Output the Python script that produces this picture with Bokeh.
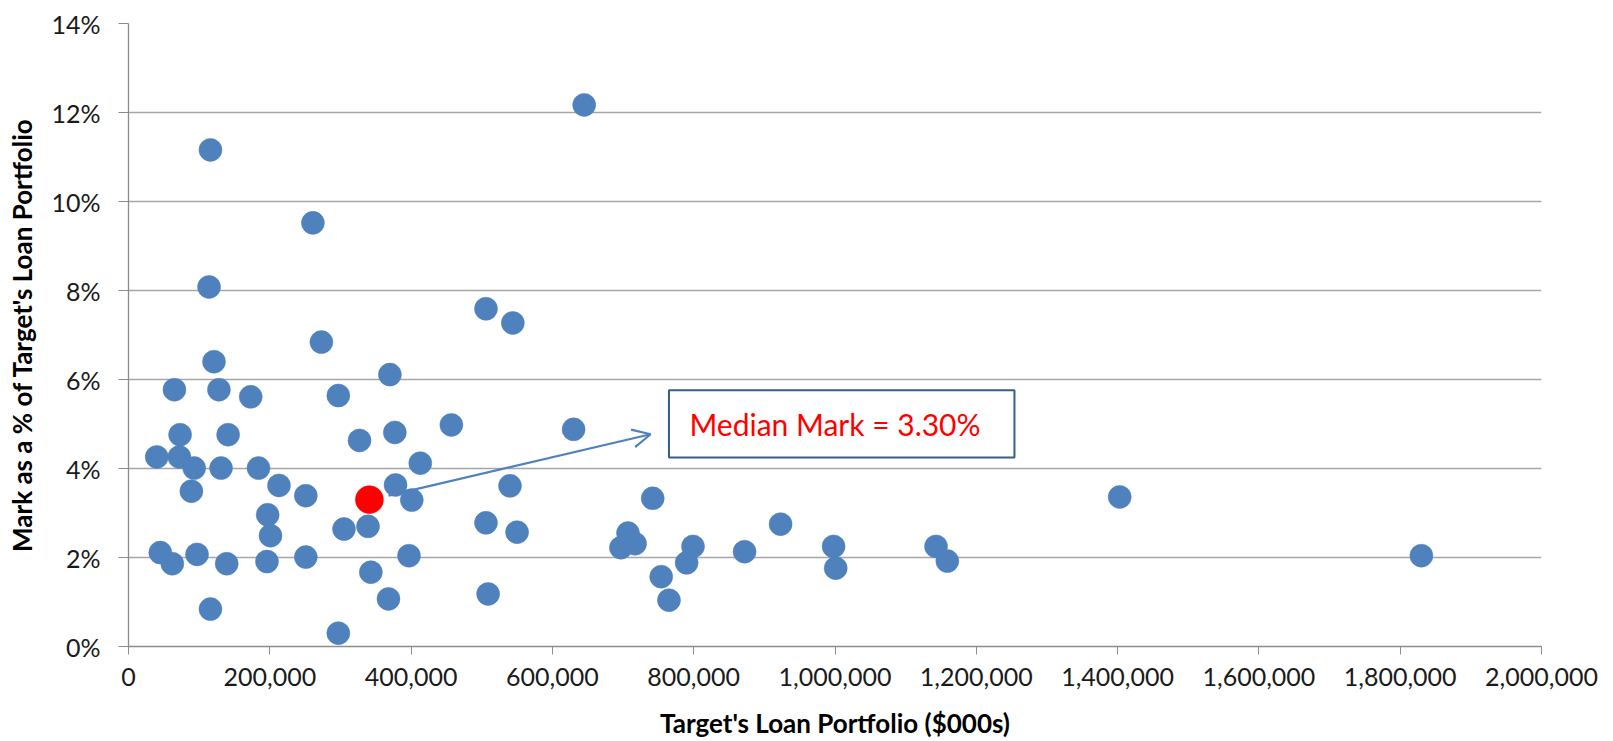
from bokeh.plotting import figure
from bokeh.models import (NumeralTickFormatter, PrintfTickFormatter,
                          FixedTicker, Arrow, OpenHead, BoxAnnotation, Label, Range1d)
from bokeh.embed import file_html
from bokeh.resources import INLINE

# Target loan portfolio ($000s) and mark as % of the portfolio
loan_portfolio = [
    645000, 116000, 261000, 114000, 506000, 544000, 273000, 121000, 370000, 65000,
    128000, 173000, 297000, 73000, 141000, 377000, 457000, 630000, 327000, 40000,
    72000, 93000, 131000, 184000, 413000, 89000, 213000, 251000, 378000, 540000,
    742000, 1403000, 401000, 197000, 201000, 305000, 339000, 506000, 550000, 707000,
    717000, 697000, 923000, 799000, 872000, 998000, 1143000, 45000, 62000, 97000,
    139000, 196000, 251000, 397000, 790000, 1001000, 1159000, 1830000, 343000, 754000,
    116000, 368000, 509000, 765000, 297000,
]
mark_pct = [
    12.17, 11.16, 9.52, 8.08, 7.59, 7.27, 6.84, 6.40, 6.11, 5.77,
    5.77, 5.61, 5.64, 4.76, 4.76, 4.81, 4.98, 4.88, 4.63, 4.26,
    4.26, 4.01, 4.01, 4.01, 4.12, 3.49, 3.62, 3.39, 3.63, 3.61,
    3.33, 3.36, 3.29, 2.96, 2.49, 2.64, 2.70, 2.78, 2.57, 2.55,
    2.31, 2.22, 2.75, 2.25, 2.13, 2.25, 2.25, 2.11, 1.86, 2.07,
    1.86, 1.91, 2.01, 2.04, 1.88, 1.76, 1.92, 2.04, 1.67, 1.57,
    0.84, 1.07, 1.18, 1.04, 0.30,
]

# Median deal
median_portfolio = [341000]
median_mark = [3.30]
median_text = "Median Mark = 3.30%"

x_ticks = [0, 200000, 400000, 600000, 800000, 1000000, 1200000, 1400000,
           1600000, 1800000, 2000000]
y_ticks = [0, 2, 4, 6, 8, 10, 12, 14]

FONT = "Lato"
BLUE = "#4F81BD"
GRID = "#A6A6A6"
AXIS = "#8C8C8C"
TEXT = "#1A1A1A"

p = figure(width=1613, height=741, output_backend="svg", toolbar_location=None,
           x_range=Range1d(0, 2000000), y_range=Range1d(0, 14),
           min_border_left=128, min_border_right=72, min_border_top=23,
           min_border_bottom=95)
p.outline_line_color = None
p.background_fill_color = "white"
p.border_fill_color = "white"

p.scatter(x=loan_portfolio, y=mark_pct, size=23, fill_color=BLUE,
          line_color=BLUE, line_width=0.5)
p.scatter(x=median_portfolio, y=median_mark, size=28, fill_color="#FF0000",
          line_color="#FF0000", line_width=0.5)

# gridlines
p.xgrid.visible = False
p.ygrid.grid_line_color = GRID
p.ygrid.grid_line_width = 1.3
p.ygrid.ticker = FixedTicker(ticks=y_ticks)

# x axis
xa = p.xaxis[0]
xa.ticker = FixedTicker(ticks=x_ticks)
xa.formatter = NumeralTickFormatter(format="0,0")
xa.axis_line_color = AXIS
xa.axis_line_width = 1.3
xa.major_tick_line_color = AXIS
xa.major_tick_out = 8
xa.major_tick_in = 0
xa.minor_tick_line_color = None
xa.major_label_text_font = FONT
xa.major_label_text_font_size = "25px"
xa.major_label_text_color = TEXT
xa.major_label_standoff = 13
xa.axis_label = "Target's Loan Portfolio ($000s)"
xa.axis_label_text_font = FONT
xa.axis_label_text_font_style = "bold"
xa.axis_label_text_font_size = "26px"
xa.axis_label_text_color = "#000000"
xa.axis_label_standoff = 18

# y axis
ya = p.yaxis[0]
ya.ticker = FixedTicker(ticks=y_ticks)
ya.formatter = PrintfTickFormatter(format="%d%%")
ya.axis_line_color = AXIS
ya.axis_line_width = 1.3
ya.major_tick_line_color = AXIS
ya.major_tick_out = 10
ya.major_tick_in = 0
ya.minor_tick_line_color = None
ya.major_label_text_font = FONT
ya.major_label_text_font_size = "25px"
ya.major_label_text_color = TEXT
ya.major_label_standoff = 18
ya.axis_label = "Mark as a % of Target's Loan Portfolio"
ya.axis_label_text_font = FONT
ya.axis_label_text_font_style = "bold"
ya.axis_label_text_font_size = "26px"
ya.axis_label_text_color = "#000000"
ya.axis_label_standoff = 10

# callout box with the median note
box = BoxAnnotation(left=765000, right=1254000, bottom=4.25, top=5.76,
                    fill_color="white", fill_alpha=1.0,
                    line_color="#385D8A", line_alpha=1.0, line_width=2)
p.add_layout(box)
p.add_layout(Label(x=1000000, y=5.0, text=median_text, text_align="center",
                   text_baseline="middle", text_font=FONT, text_font_size="30px",
                   text_color="#FF0000"))

# arrow from the median point toward the note
p.add_layout(Arrow(x_start=368000, y_start=3.39, x_end=739000, y_end=4.77,
                   line_color=BLUE, line_width=2.2,
                   end=OpenHead(size=18, line_color=BLUE, line_width=2.2)))

open("out.html", "w").write(file_html(p, INLINE))
